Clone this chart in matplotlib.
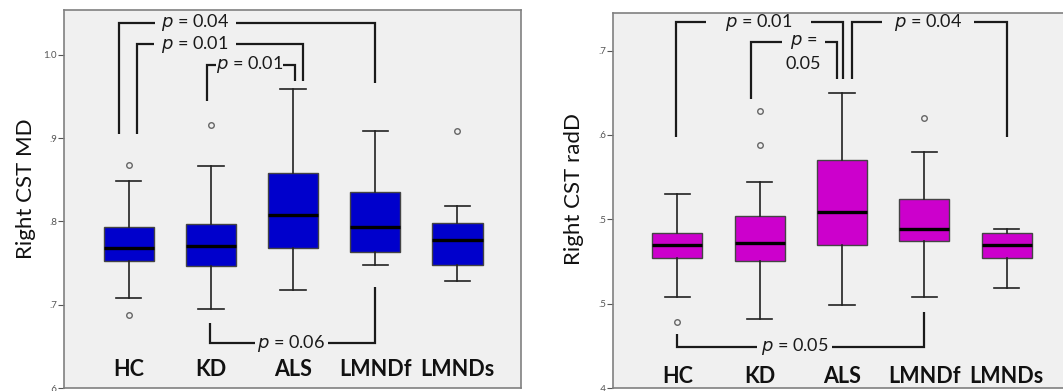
import matplotlib
matplotlib.use("Agg")
import matplotlib.pyplot as plt

plt.rcParams["font.family"] = ["Lato", "DejaVu Sans"]

groups = ["HC", "KD", "ALS", "LMNDf", "LMNDs"]

# Right CST MD (left panel)
md_q1 = [0.753, 0.746, 0.768, 0.763, 0.748]
md_med = [0.768, 0.770, 0.808, 0.793, 0.778]
md_q3 = [0.793, 0.797, 0.858, 0.835, 0.798]
md_lo = [0.708, 0.695, 0.718, 0.748, 0.728]
md_hi = [0.848, 0.867, 0.959, 0.908, 0.818]
md_out = [[0.868, 0.688], [0.916], [], [], [0.908]]
md_ticks = [0.6, 0.7, 0.8, 0.9, 1.0]
md_ticklabels = [".6", ".7", ".8", ".9", "1.0"]

# Right CST radD (right panel)
rd_q1 = [0.527, 0.525, 0.535, 0.537, 0.527]
rd_med = [0.535, 0.536, 0.5545, 0.5445, 0.535]
rd_q3 = [0.542, 0.552, 0.585, 0.562, 0.542]
rd_lo = [0.504, 0.491, 0.499, 0.504, 0.509]
rd_hi = [0.565, 0.572, 0.625, 0.590, 0.5445]
rd_out = [[0.489], [0.614, 0.594], [], [0.610], []]
rd_ticks = [0.45, 0.50, 0.55, 0.60, 0.65]
rd_ticklabels = [".4", ".5", ".5", ".6", ".7"]

# significance brackets: x_left, x_right, y_bar, y_left_end, y_right_end, gap_lo, gap_hi, label
md_brackets = [
    (0.878, 4.0, 1.0385, 0.9046, 0.9658, 1.32, 2.30, "$p$ = 0.04"),
    (1.10, 3.117, 1.0125, 0.9046, 0.968, 1.308, 2.30, "$p$ = 0.01"),
    (1.949, 3.023, 0.9878, 0.9445, 0.968, 2.058, 2.877, "$p$ = 0.01"),
    (1.99, 4.0, 0.6537, 0.6777, 0.721, 2.537, 3.421, "$p$ = 0.06"),
]
rd_brackets = [
    (0.988, 3.008, 0.6668, 0.599, 0.6332, 1.349, 2.62, "$p$ = 0.01"),
    (1.891, 2.943, 0.6550, 0.6212, 0.6332, 2.268, 2.794, "$p$ =\n0.05"),
    (3.118, 5.0, 0.6668, 0.6332, 0.599, 3.482, 4.603, "$p$ = 0.04"),
    (1.0, 4.0, 0.4745, 0.482, 0.4949, 1.964, 2.882, "$p$ = 0.05"),
]

W, H = 1063, 391
fig = plt.figure(figsize=(W / 100, H / 100), dpi=100)
fig.patch.set_facecolor("white")


def panel(rect, q1, med, q3, lo, hi, out, color, ylim, xlim, ticks, ticklabels,
          brackets, label_y, ylabel, ylabel_x, right_spine=True):
    x0, y0, x1, y1 = rect
    ax = fig.add_axes([x0 / W, (H - y1) / H, (x1 - x0) / W, (y1 - y0) / H])
    ax.set_facecolor("#f0f0f0")
    stats = []
    for i, g in enumerate(groups):
        stats.append(dict(label=g, q1=q1[i], med=med[i], q3=q3[i],
                          whislo=lo[i], whishi=hi[i], fliers=out[i]))
    ax.bxp(stats, positions=range(1, 6), widths=0.61, patch_artist=True,
           boxprops=dict(facecolor=color, edgecolor="#444444", linewidth=1.0),
           medianprops=dict(color="black", linewidth=2.4),
           whiskerprops=dict(color="#222222", linewidth=1.2),
           capprops=dict(color="#222222", linewidth=1.2),
           capwidths=0.31,
           flierprops=dict(marker="o", markersize=4, markerfacecolor="none",
                           markeredgecolor="#666666", markeredgewidth=1.0))
    ax.set_xlim(*xlim)
    ax.set_ylim(*ylim)
    ax.set_xticks([])
    ax.set_yticks(ticks)
    ax.set_yticklabels(ticklabels)
    ax.tick_params(axis="y", length=4, width=0.8, color="#555555",
                   labelsize=7, labelcolor="#555555", pad=1)
    for s in ax.spines.values():
        s.set_color("#808080")
        s.set_linewidth(1.2)
    if not right_spine:
        ax.spines["right"].set_visible(False)

    for xl, xr, yb, yle, yre, glo, ghi, txt in brackets:
        kw = dict(color="#1a1a1a", linewidth=1.6, solid_capstyle="butt",
                  solid_joinstyle="miter")
        ax.plot([xl, xl, glo], [yle, yb, yb], **kw)
        ax.plot([ghi, xr, xr], [yb, yb, yre], **kw)
        # first line of the label sits on the bar, further lines go below
        for k, line in enumerate(txt.split("\n")):
            ax.annotate(line, ((glo + ghi) / 2, yb), xytext=(0, -16 * k),
                        textcoords="offset points", ha="center", va="center",
                        fontsize=13, color="#1a1a1a")

    for i, g in enumerate(groups):
        ax.text(i + 1, label_y, g, ha="center", va="center", fontsize=15.5,
                fontweight="bold", color="#111111")

    fig.text(ylabel_x / W, 1 - 189 / H, ylabel, rotation=90, ha="center",
             va="center", fontsize=16, color="#111111")
    return ax


panel((64, 9.5, 521, 388), md_q1, md_med, md_q3, md_lo, md_hi, md_out,
      "#0000cc", (0.6, 1.0544), (0.213, 5.773), md_ticks, md_ticklabels,
      md_brackets, 0.6228, "Right CST MD", 26)

panel((613, 12.7, 1075, 388), rd_q1, rd_med, rd_q3, rd_lo, rd_hi, rd_out,
      "#cc00cc", (0.45, 0.6725), (0.219, 5.829), rd_ticks, rd_ticklabels,
      rd_brackets, 0.4567, "Right CST radD", 574, right_spine=False)

fig.savefig("out.png", dpi=100)
